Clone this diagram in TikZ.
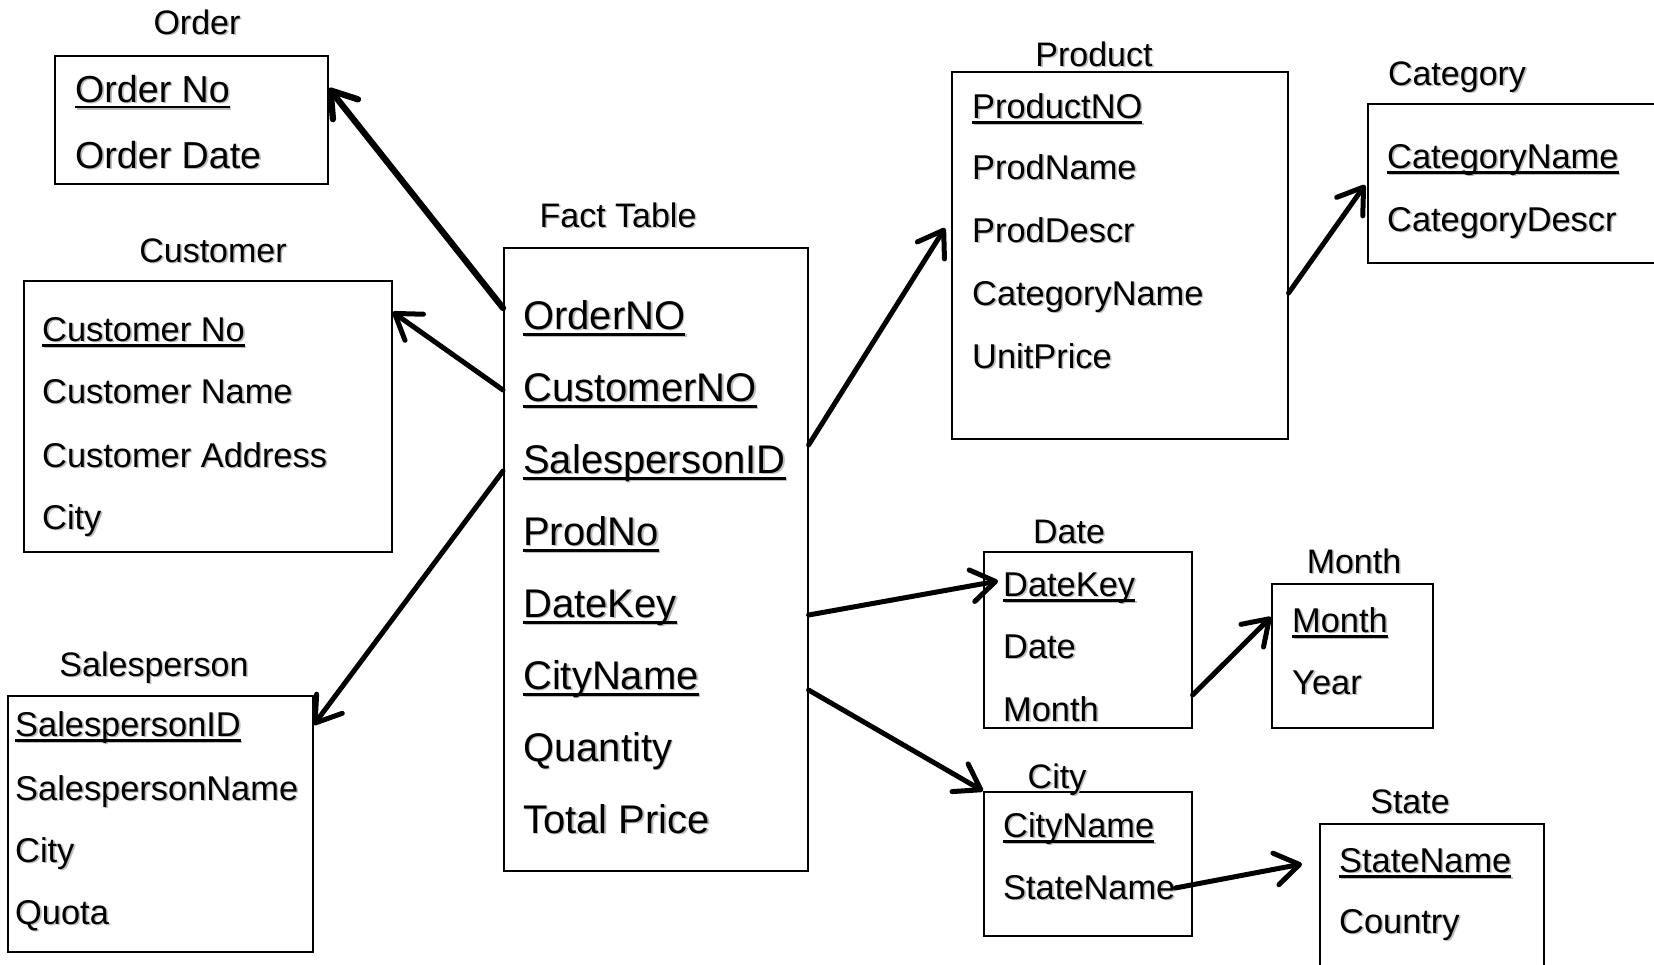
\documentclass[tikz,border=0pt]{standalone}
\usepackage{fontspec}
\setmainfont{Liberation Sans}
\usetikzlibrary{arrows.meta}

% soft grey drop shadow behind a piece of text
\newcommand\shd[1]{\leavevmode\rlap{\kern1.6pt\raisebox{-1.6pt}{\color{black!26}#1}}#1}
% key attribute: underline set close to the baseline
\newcommand\keyline[1]{\setbox0=\hbox{#1}\rlap{\rule[-0.165em]{\wd0}{0.07em}}\box0}
\newcommand\key[1]{\shd{\keyline{#1}}}

\begin{document}
\begin{tikzpicture}[x=1pt, y=-1pt,
  tbl/.style={draw, line width=1.6pt, inner sep=0pt, anchor=north west},
  fld/.style={anchor=base west, inner sep=0pt, font=\fontsize{34.4}{38}\selectfont},
  bigfld/.style={fld, font=\fontsize{40}{44}\selectfont},
  ordfld/.style={fld, font=\fontsize{37.6}{41}\selectfont},
  ttl/.style={anchor=base, inner sep=0pt, font=\fontsize{34}{38}\selectfont},
  link/.style={line width=5pt, line cap=round,
    -{Straight Barb[length=24pt,width=32pt,line cap=round,line join=round]}},
  heavylink/.style={link, line width=6.3pt}]

\fill[white] (0,0) rectangle (1654,964);
\useasboundingbox (0,0) rectangle (1654,964);

% ---- tables ----
\node[tbl, minimum width=273pt, minimum height=128pt] (order) at (54,55) {};
\node[tbl, minimum width=368pt, minimum height=271pt] (cust) at (23,280) {};
\node[tbl, minimum width=305pt, minimum height=256pt] (sales) at (7,695) {};
\node[tbl, minimum width=304pt, minimum height=623pt] (fact) at (503,247) {};
\node[tbl, minimum width=336pt, minimum height=367pt] (prod) at (951,71) {};
\node[tbl, minimum width=300pt, minimum height=159pt] (cat) at (1367,103) {};
\node[tbl, minimum width=208pt, minimum height=176pt] (date) at (983,551) {};
\node[tbl, minimum width=161pt, minimum height=144pt] (month) at (1271,583) {};
\node[tbl, minimum width=208pt, minimum height=144pt] (city) at (983,791) {};
\node[tbl, minimum width=224pt, minimum height=150pt] (state) at (1319,823) {};

% ---- titles ----
\node[ttl] (tOrder) at (197,34) {\shd{Order}};
\node[ttl] (tCust) at (213,262) {\shd{Customer}};
\node[ttl] (tSales) at (154,676) {\shd{Salesperson}};
\node[ttl] (tFact) at (618,227) {\shd{Fact Table}};
\node[ttl] (tProd) at (1094,66) {\shd{Product}};
\node[ttl] (tCat) at (1457,85) {\shd{Category}};
\node[ttl] (tDate) at (1069,543) {\shd{Date}};
\node[ttl] (tMonth) at (1354,573) {\shd{Month}};
\node[ttl] (tCity) at (1057,788) {\shd{City}};
\node[ttl] (tState) at (1410,813) {\shd{State}};

% ---- Order ----
\node[ordfld] (oNo) at (75,102) {\key{Order No}};
\node[ordfld] (oDate) at (75,168) {\shd{Order Date}};

% ---- Customer ----
\node[fld] (cNo) at (42,341) {\key{Customer No}};
\node[fld] (cName) at (42,403) {\shd{Customer Name}};
\node[fld] (cAddr) at (42,467) {\shd{Customer Address}};
\node[fld] (cCity) at (42,529) {\shd{City}};

% ---- Salesperson ----
\node[fld] (sId) at (15,736) {\key{SalespersonID}};
\node[fld] (sName) at (15,800) {\shd{SalespersonName}};
\node[fld] (sCity) at (15,862) {\shd{City}};
\node[fld] (sQuota) at (15,924) {\shd{Quota}};

% ---- Fact Table ----
\node[bigfld] (fOrd) at (523,329) {\key{OrderNO}};
\node[bigfld] (fCust) at (523,401) {\key{CustomerNO}};
\node[bigfld] (fSales) at (523,473) {\key{SalespersonID}};
\node[bigfld] (fProd) at (523,545) {\key{ProdNo}};
\node[bigfld] (fDate) at (523,617) {\key{DateKey}};
\node[bigfld] (fCity) at (523,689) {\key{CityName}};
\node[bigfld] (fQty) at (523,761) {\shd{Quantity}};
\node[bigfld] (fTot) at (523,833) {\shd{Total Price}};

% ---- Product ----
\node[fld] (pNo) at (972,118) {\key{ProductNO}};
\node[fld] (pName) at (972,179) {\shd{ProdName}};
\node[fld] (pDescr) at (972,242) {\shd{ProdDescr}};
\node[fld] (pCat) at (972,305) {\shd{CategoryName}};
\node[fld] (pPrice) at (972,368) {\shd{UnitPrice}};

% ---- Category ----
\node[fld] (kName) at (1387,168) {\key{CategoryName}};
\node[fld] (kDescr) at (1387,231) {\shd{CategoryDescr}};

% ---- Date ----
\node[fld] (dKey) at (1003,596) {\key{DateKey}};
\node[fld] (dDate) at (1003,658) {\shd{Date}};
\node[fld] (dMonth) at (1003,721) {\shd{Month}};

% ---- Month ----
\node[fld] (mMonth) at (1292,632) {\key{Month}};
\node[fld] (mYear) at (1292,694) {\shd{Year}};

% ---- City ----
\node[fld] (yName) at (1003,837) {\key{CityName}};
\node[fld] (yState) at (1003,899) {\shd{StateName}};

% ---- State ----
\node[fld] (zName) at (1339,872) {\key{StateName}};
\node[fld] (zCountry) at (1339,933) {\shd{Country}};

% ---- connectors ----
\draw[heavylink] ([yshift=-61pt]fact.north west) -- ([yshift=-33pt]order.north east);
\draw[link] ([yshift=-143pt]fact.north west) -- ([yshift=-32pt]cust.north east);
\draw[link] ([yshift=-224pt]fact.north west) -- ([yshift=-30pt]sales.north east);
\draw[link] ([yshift=-198pt]fact.north east) -- ([xshift=-6pt,yshift=-157pt]prod.north west);
\draw[link] ([yshift=-222pt]prod.north east) -- ([xshift=-2pt,yshift=-82pt]cat.north west);
\draw[link] ([yshift=-368pt]fact.north east) -- ([xshift=15pt,yshift=-30pt]date.north west);
\draw[link] ([yshift=-443pt]fact.north east) -- (city.north west);
\draw[link] ([yshift=-144pt]date.north east) -- ([yshift=-34pt]month.north west);
\draw[link] (yState.east) -- ([xshift=-17pt,yshift=-41pt]state.north west);

\end{tikzpicture}
\end{document}
